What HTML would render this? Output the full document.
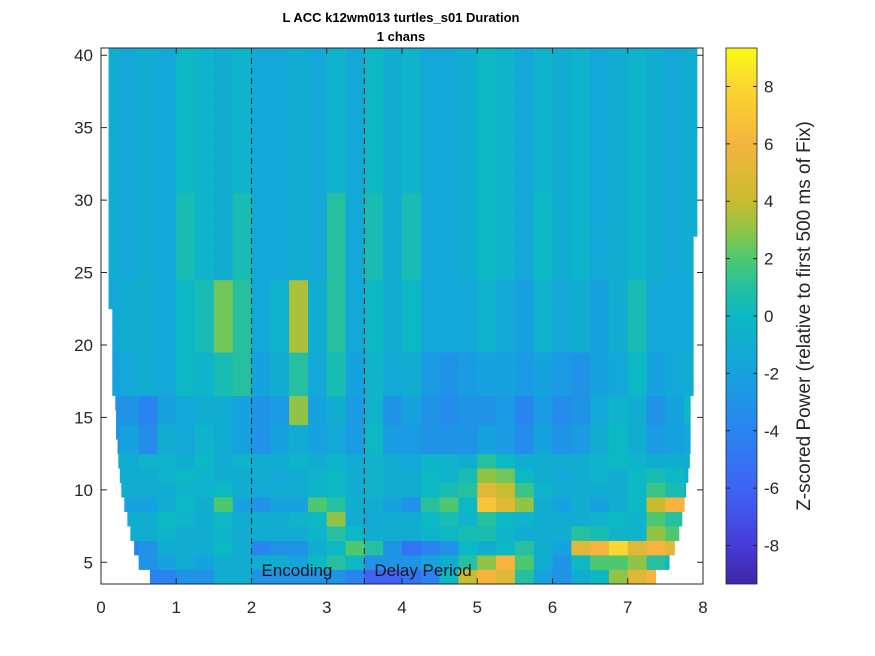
<!DOCTYPE html>
<html><head><meta charset="utf-8"><style>
body{margin:0;background:#fff;}
svg{display:block;font-family:"Liberation Sans",Arial,sans-serif;}
</style></head><body>
<svg id="chart" width="875" height="656" viewBox="0 0 875 656">
<rect width="875" height="656" fill="#fff"/>
<g id="cells"></g>
<g id="axes"></g>
<text x="401" y="22" text-anchor="middle" font-size="13" font-weight="bold">L ACC k12wm013 turtles_s01 Duration</text>
<text x="401" y="41" text-anchor="middle" font-size="13" font-weight="bold">1 chans</text>
<defs><linearGradient id="cbg" x1="0" y1="1" x2="0" y2="0"></linearGradient></defs>
<rect x="726" y="48" width="31" height="536" fill="url(#cbg)" stroke="#262626" stroke-width="0.8"/>
<g id="cbticks"></g>
<text transform="translate(810,316) rotate(-90)" text-anchor="middle" font-size="19" fill="#262626">Z-scored Power (relative to first 500 ms of Fix)</text>
</svg>
<script>
// ---- data ----
const timeStep = 0.25; // s per column
const bandLow  = [4,5,6,7,8,9,10,11,12,13,15,17,20,25,31];
const bandHigh = [4,5,6,7,8,9,10,11,12,14,16,19,24,30,40];
const band0  = [-4,-4,-4,-4,-3,-3,-1,-1,-3,-3,-3,-3,-3,-4,-6,-6,-5,-4,0,4,6,5,1,-2,-3,-1,0,3,5,6,0,0];
const band1  = [-3,-3,-3,-2,-1,-2,-1,-1,-1,-1,-2,0,1,0,-3,-3,-3,-2,-1,1,3,6,2,-1,-3,0,2,2,3,1,0,0];
const band2  = [-4,-4,-3,-1,-1,-1,0,-1,-4,-3,-3,-1,0,2,1,-3,-5,-4,-3,0,-1,0,1,-1,-2,5,6,8,5,6,5,0];
const band3  = [-1,-1,-1,-0.5,-1,-1,-0.5,-1,-1,-1,-1,-0.5,1,0,-1,-1,-1,-0.5,0,0.5,0.5,-0.5,-1,-1,-1,1,0.5,-0.5,-0.5,3,2,-1];
const band4  = [-1,-1,-1,0,-0.5,-1,0,-1,-1,-1,-0.5,0,3,-1,-1.5,-1,-1,0,0.5,-0.5,1,0,-0.5,-1,-1,-1,-0.5,0,-0.5,2,1,-1];
const band5  = [-2,-2,-2,-1,0,-1,2,-2,-3,-2,-2,2,1,-1,-1,-2,-3,1,2,0,7,5,3,-1,-2,-1,-2,-1,0,4,6,0];
const band6  = [-1,-1,-1,-1,-0.5,-0.5,0,-1,-1.5,-1,-1,-0.5,0,-1,-0.5,-1,-1,0,0.5,1,5,4,1.5,-0.5,-1,-1,-1,-1,0,1.5,0.5,-1];
const band7  = [-1,-1,-1,-0.5,0,-0.5,-1,-1,-1,-1.5,-1,-0.5,0,-1,-0.5,-1,-1,0,-0.5,0.5,3,2.5,0,-1,-1.5,-1,-0.5,-1,0,0.5,0,-1];
const band8  = [-1,-1,-0.5,-0.5,-1,0,-1,-0.5,-1,-1,-0.5,-1,-0.5,-1,-0.5,-1,-1.5,-0.5,-0.5,-1,1,0,-1,-1,-1,-1,-0.5,0,-0.5,-1,-1,-1];
const band9  = [-3,-2,-3.5,-1,-1.5,-0.5,-1,-2,-3,-2,-1,-2,-1.5,-2.5,0,-2.5,-2.5,-3,-3,-3,-2,-2.5,-3.5,-2,-3,-2.5,-1,0,-1,-2.5,-2,-1.5];
const band10 = [-3,-3,-4,-2,-1.5,-1,-1,-2,-3,-2.5,3,-2,-1,-2.5,-0.5,-3,-2,-3,-3.5,-3,-3,-2.5,-4,-2.5,-3.5,-3,-1.5,-0.5,-1,-3,-2,0];
const band11 = [-2,-1.5,-1,-1.5,0,-0.5,0.5,1,-2,-1,1,-1.5,0.5,-2,-0.5,-1.5,-1,-2.5,-3,-2.5,-2,-2,-2.5,-2,-2.5,-3,-2,-1.5,0,-2,-1.5,-1];
const band12 = [-1.5,-1,-1,-1.5,0,0.5,2.5,1,-1.5,-0.5,3.5,-1,1,-1.5,0,-1,0,-1.5,-1.5,-1.5,-0.5,-1.5,-2,-0.5,-1.5,-1,-2,-1,0.5,-1.5,-1.5,-1.5];
const band13 = [-1,-1.5,-1,-1.5,0.5,-0.5,-1,0.5,-1.5,-1.5,-1,-1.5,1,-1.5,0.5,-1,0.5,-1.5,-1.5,-1,0,-0.5,-1.5,0,-1,-0.5,-1.5,-1,-0.5,-1,-1.5,-1];
const band14 = [-1,-1.5,-1,-1.5,0,-0.5,-1,-0.5,-1.5,-1.5,-1,-1.5,-0.5,-1.5,0,-1,-0.5,-1.5,-1.5,-1,0,-0.5,-1.5,-0.5,-1,-0.5,-1.5,-1,-0.5,-1,-1.5,-1];
const bands = [band0,band1,band2,band3,band4,band5,band6,band7,band8,band9,band10,band11,band12,band13,band14];
// cone of influence per frequency row (4..40 Hz), seconds
const coiLeft  = [0.65,0.5,0.44,0.39,0.35,0.31,0.27,0.25,0.23,0.22,0.2,0.2,0.19,0.15,0.15,0.15,0.15,0.15,0.15,0.1,0.1,0.1,0.1,0.1,0.1,0.1,0.1,0.1,0.1,0.1,0.1,0.1,0.1,0.1,0.1,0.1,0.1];
const coiRight = [7.37,7.55,7.62,7.68,7.72,7.75,7.77,7.8,7.82,7.83,7.83,7.83,7.83,7.87,7.87,7.87,7.87,7.87,7.87,7.87,7.87,7.87,7.87,7.87,7.92,7.92,7.92,7.92,7.92,7.92,7.92,7.92,7.92,7.92,7.92,7.92,7.92];
const xTicks = [0,1,2,3,4,5,6,7,8];
const yTicks = [5,10,15,20,25,30,35,40];
const cTicks = [-8,-6,-4,-2,0,2,4,6,8];
const cLim = 9.34;
const eventTimes = [2,3.5];
const eventLabels = ["Encoding","Delay Period"];

// ---- scales ----
const X0=101,X1=703,Y0=584,Y1=48;
const xs = t => X0 + (t-0)/(8-0)*(X1-X0);
const ys = f => Y0 - (f-3.5)/(40.5-3.5)*(Y0-Y1);
// colormap stops: [value, r,g,b]
const cmap = [[-9.34,62,38,168],[-8,70,60,215],[-6,62,100,245],[-4,42,132,240],[-2,22,162,222],[0,12,184,196],[1,38,192,160],[2,78,200,112],[3,145,196,70],[4,200,188,48],[6,246,180,62],[8,250,214,48],[9.34,249,251,20]];
function color(v){
  v=Math.max(-cLim,Math.min(cLim,v));
  let i=0; while(i<cmap.length-2 && v>cmap[i+1][0]) i++;
  const a=cmap[i], b=cmap[i+1], r=(v-a[0])/(b[0]-a[0]);
  return 'rgb('+[1,2,3].map(j=>Math.round(a[j]+(b[j]-a[j])*r)).join(',')+')';
}
const NS='http://www.w3.org/2000/svg';
function mk(tag,attrs,parent){const e=document.createElementNS(NS,tag);for(const k in attrs)e.setAttribute(k,attrs[k]);parent.appendChild(e);return e;}

// ---- heatmap ----
const cells=document.getElementById('cells');
bands.forEach((vals,bi)=>{
  for(let f=bandLow[bi]; f<=bandHigh[bi]; f++){
    const L=coiLeft[f-4], R=coiRight[f-4];
    vals.forEach((v,k)=>{
      const t0=Math.max(k*timeStep,L), t1=Math.min((k+1)*timeStep,R);
      if(t1<=t0) return;
      const r=mk('rect',{x:xs(t0),y:ys(f+0.5),width:xs(t1)-xs(t0)+0.4,height:ys(f-0.5)-ys(f+0.5)+0.4,fill:color(v)},cells);
      
      
    });
  }
});

// ---- axes ----
const ax=document.getElementById('axes');
eventTimes.forEach((t,i)=>{
  const l=mk('line',{x1:xs(t),x2:xs(t),y1:Y1,y2:Y0,stroke:'#1a1a1a','stroke-width':1,'stroke-dasharray':'6,4'},ax);
  
  
  const tx=mk('text',{x:xs(t)+10,y:576,'font-size':17,fill:'#1a1a1a'},ax);
  tx.textContent=eventLabels[i];
  
  
});
const box=mk('path',{d:`M${X0},${Y1}H${X1}V${Y0}H${X0}Z`,fill:'none',stroke:'#262626','stroke-width':1},ax);


xTicks.forEach(t=>{
  mk('path',{d:`M${xs(t)},${Y0}v-6M${xs(t)},${Y1}v6`,stroke:'#262626'},ax);
  const tx=mk('text',{x:xs(t),y:613,'text-anchor':'middle','font-size':17,fill:'#262626'},ax);
  tx.textContent=t;
  
  
});
yTicks.forEach(f=>{
  mk('path',{d:`M${X0},${ys(f)}h6M${X1},${ys(f)}h-6`,stroke:'#262626'},ax);
  const tx=mk('text',{x:93,y:ys(f)+6,'text-anchor':'end','font-size':17,fill:'#262626'},ax);
  tx.textContent=f;
  
  
});
// ---- colorbar ----
const g=document.getElementById('cbg');
cmap.forEach(c=>mk('stop',{offset:((c[0]+cLim)/(2*cLim)),'stop-color':'rgb('+c[1]+','+c[2]+','+c[3]+')'},g));
const cb=document.getElementById('cbticks');
const cy=v=>Y0-(v+cLim)/(2*cLim)*(Y0-Y1);
cTicks.forEach(v=>{
  mk('path',{d:`M726,${cy(v)}h4M757,${cy(v)}h-4`,stroke:'#262626'},cb);
  const tx=mk('text',{x:764,y:cy(v)+6,'font-size':17,fill:'#262626'},cb);
  tx.textContent=v;
  
  
});
</script>
</body></html>
